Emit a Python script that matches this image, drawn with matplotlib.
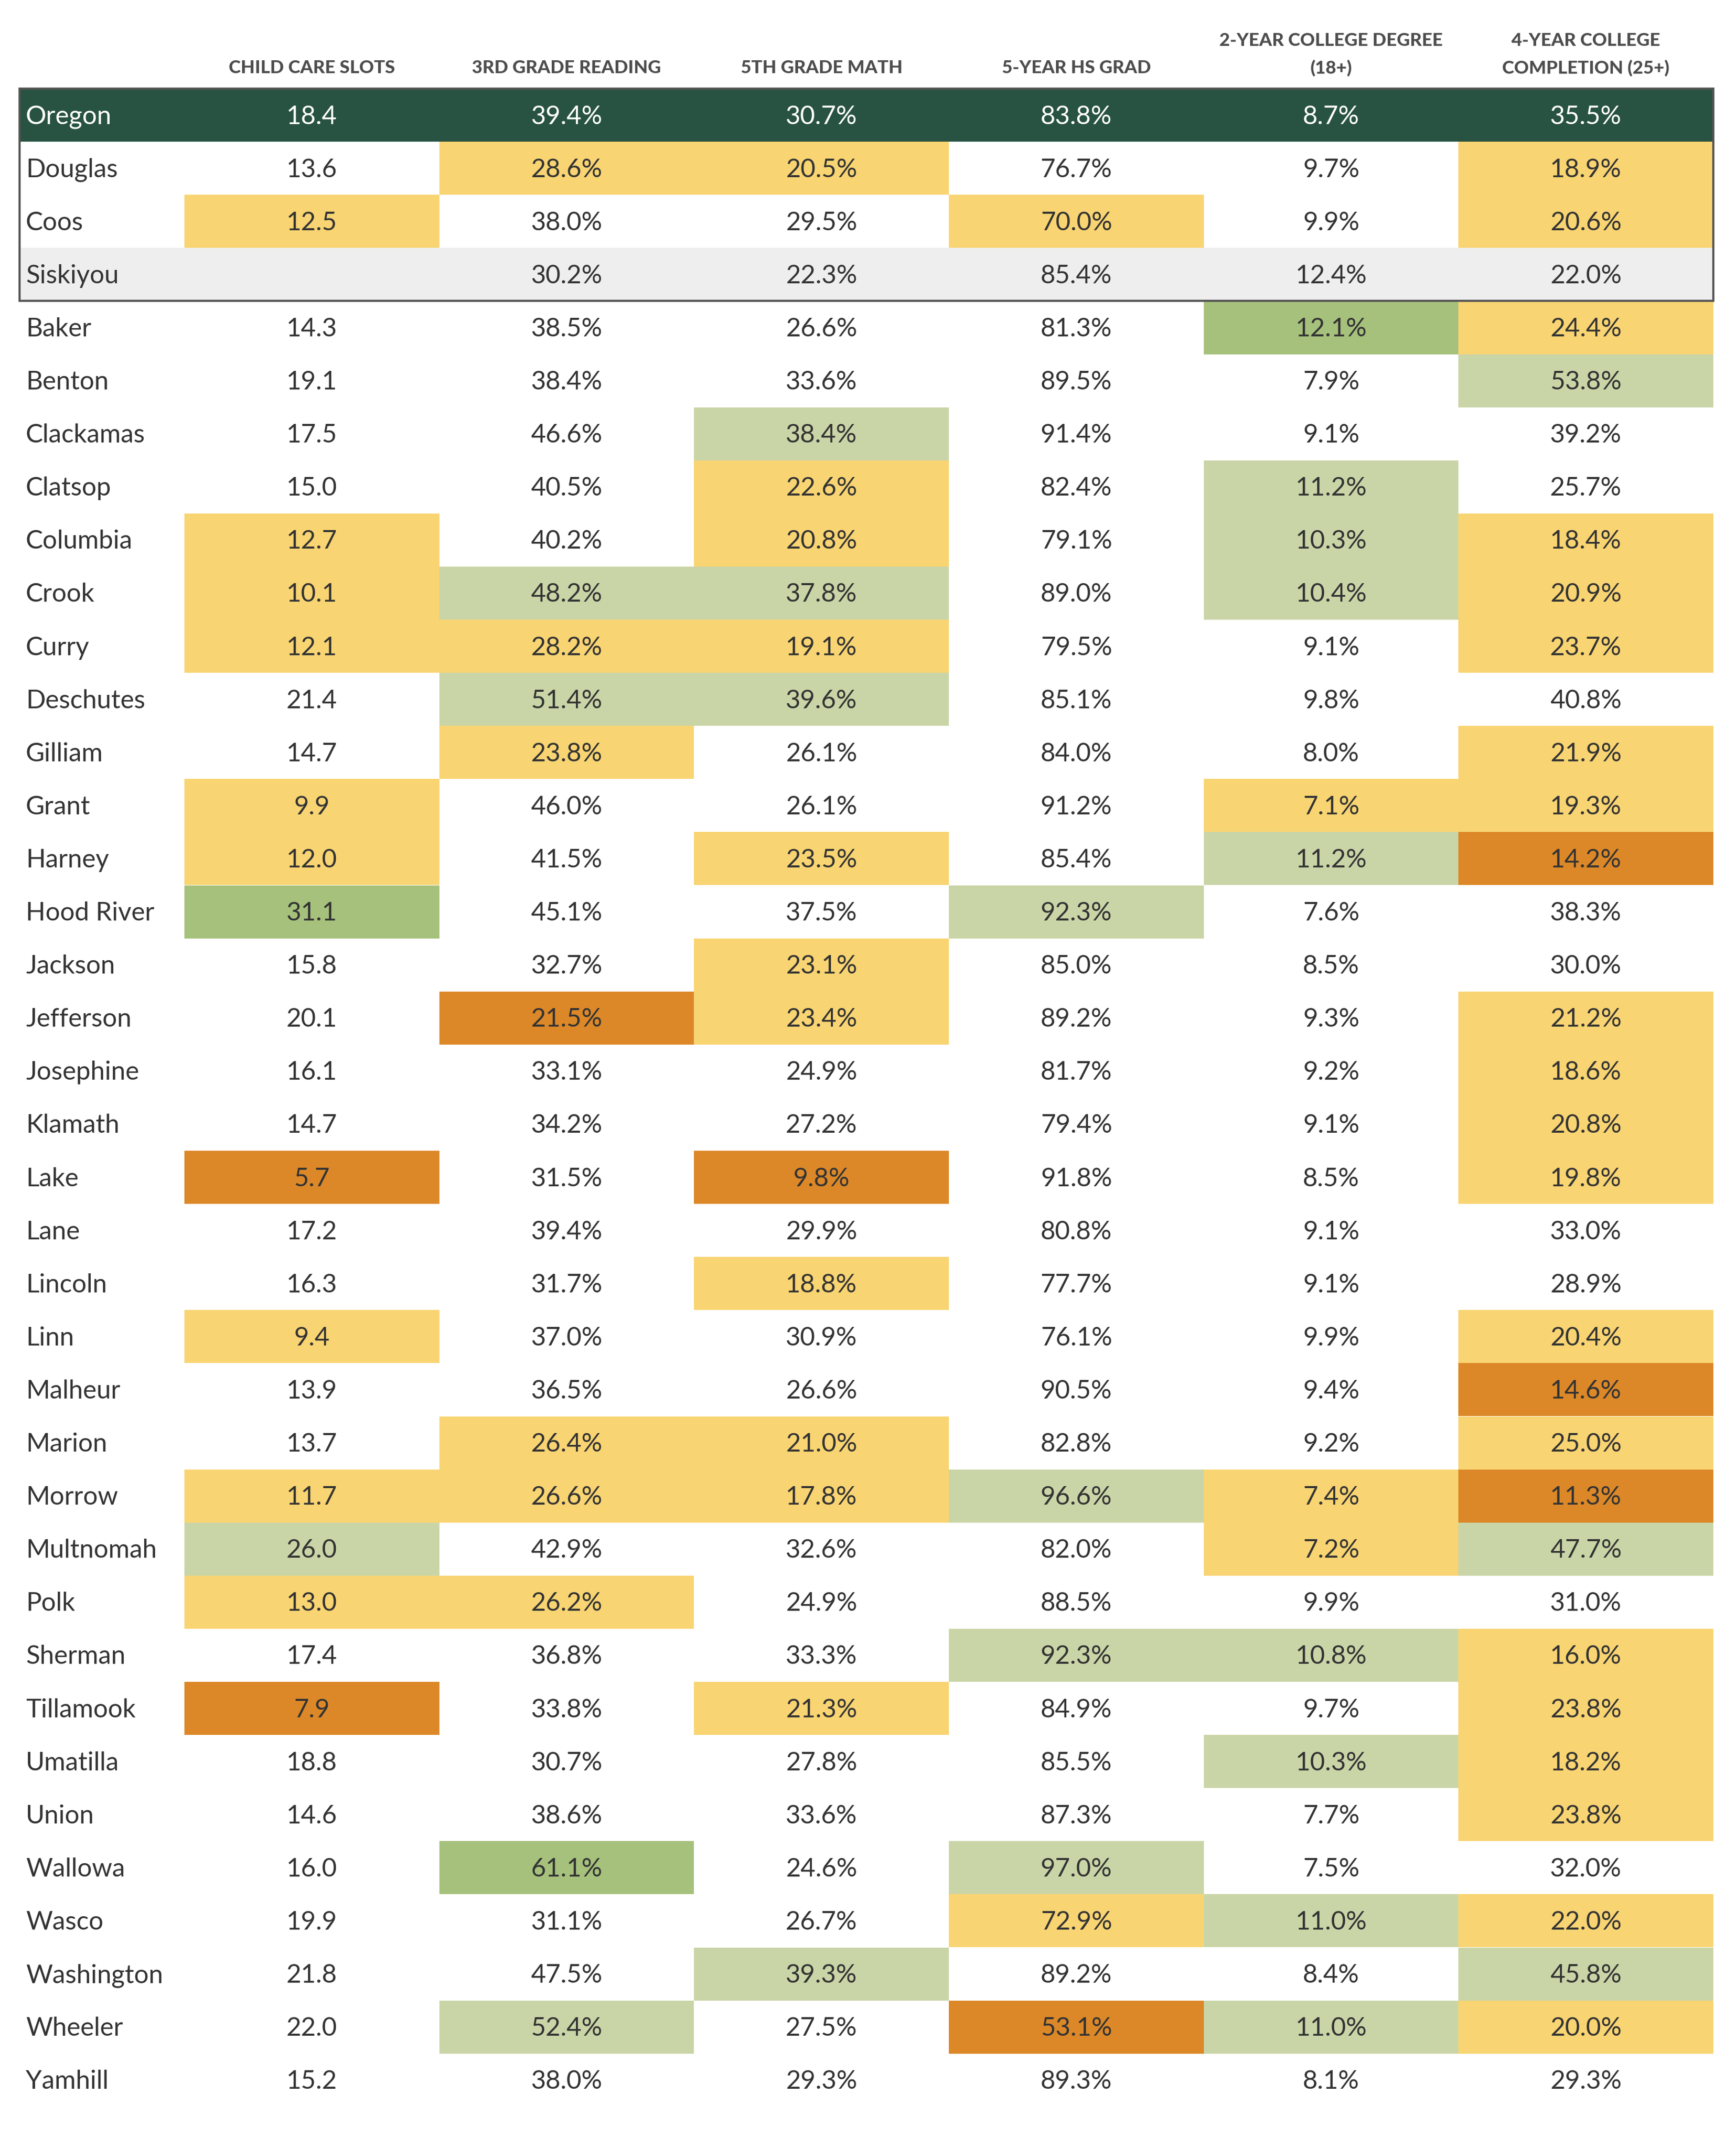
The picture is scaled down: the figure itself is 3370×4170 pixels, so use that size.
import matplotlib.pyplot as plt
from matplotlib.patches import Rectangle

plt.rcParams['font.family'] = ['Lato', 'DejaVu Sans']

# ---- data ----
headers = ['CHILD CARE SLOTS', '3RD GRADE READING', '5TH GRADE MATH',
           '5-YEAR HS GRAD', '2-YEAR COLLEGE DEGREE\n(18+)',
           '4-YEAR COLLEGE\nCOMPLETION (25+)']

counties = ['Oregon', 'Douglas', 'Coos', 'Siskiyou', 'Baker', 'Benton',
            'Clackamas', 'Clatsop', 'Columbia', 'Crook', 'Curry', 'Deschutes',
            'Gilliam', 'Grant', 'Harney', 'Hood River', 'Jackson', 'Jefferson',
            'Josephine', 'Klamath', 'Lake', 'Lane', 'Lincoln', 'Linn',
            'Malheur', 'Marion', 'Morrow', 'Multnomah', 'Polk', 'Sherman',
            'Tillamook', 'Umatilla', 'Union', 'Wallowa', 'Wasco', 'Washington',
            'Wheeler', 'Yamhill']

child_care = [18.4, 13.6, 12.5, None, 14.3, 19.1, 17.5, 15.0, 12.7, 10.1, 12.1,
              21.4, 14.7, 9.9, 12.0, 31.1, 15.8, 20.1, 16.1, 14.7, 5.7, 17.2,
              16.3, 9.4, 13.9, 13.7, 11.7, 26.0, 13.0, 17.4, 7.9, 18.8, 14.6,
              16.0, 19.9, 21.8, 22.0, 15.2]
reading = [39.4, 28.6, 38.0, 30.2, 38.5, 38.4, 46.6, 40.5, 40.2, 48.2, 28.2,
           51.4, 23.8, 46.0, 41.5, 45.1, 32.7, 21.5, 33.1, 34.2, 31.5, 39.4,
           31.7, 37.0, 36.5, 26.4, 26.6, 42.9, 26.2, 36.8, 33.8, 30.7, 38.6,
           61.1, 31.1, 47.5, 52.4, 38.0]
math = [30.7, 20.5, 29.5, 22.3, 26.6, 33.6, 38.4, 22.6, 20.8, 37.8, 19.1,
        39.6, 26.1, 26.1, 23.5, 37.5, 23.1, 23.4, 24.9, 27.2, 9.8, 29.9,
        18.8, 30.9, 26.6, 21.0, 17.8, 32.6, 24.9, 33.3, 21.3, 27.8, 33.6,
        24.6, 26.7, 39.3, 27.5, 29.3]
hs_grad = [83.8, 76.7, 70.0, 85.4, 81.3, 89.5, 91.4, 82.4, 79.1, 89.0, 79.5,
           85.1, 84.0, 91.2, 85.4, 92.3, 85.0, 89.2, 81.7, 79.4, 91.8, 80.8,
           77.7, 76.1, 90.5, 82.8, 96.6, 82.0, 88.5, 92.3, 84.9, 85.5, 87.3,
           97.0, 72.9, 89.2, 53.1, 89.3]
two_year = [8.7, 9.7, 9.9, 12.4, 12.1, 7.9, 9.1, 11.2, 10.3, 10.4, 9.1,
            9.8, 8.0, 7.1, 11.2, 7.6, 8.5, 9.3, 9.2, 9.1, 8.5, 9.1,
            9.1, 9.9, 9.4, 9.2, 7.4, 7.2, 9.9, 10.8, 9.7, 10.3, 7.7,
            7.5, 11.0, 8.4, 11.0, 8.1]
four_year = [35.5, 18.9, 20.6, 22.0, 24.4, 53.8, 39.2, 25.7, 18.4, 20.9, 23.7,
             40.8, 21.9, 19.3, 14.2, 38.3, 30.0, 21.2, 18.6, 20.8, 19.8, 33.0,
             28.9, 20.4, 14.6, 25.0, 11.3, 47.7, 31.0, 16.0, 23.8, 18.2, 23.8,
             32.0, 22.0, 45.8, 20.0, 29.3]

# cell shading per row: n none, y low, o lowest, g high, G highest
shading = ['nnnnnn', 'nyynny', 'ynnyny', 'nnnnnn', 'nnnnGy', 'nnnnng',
           'nngnnn', 'nnyngn', 'ynyngy', 'yggngy', 'yyynny', 'nggnnn',
           'nynnny', 'ynnnyy', 'ynyngo', 'Gnngnn', 'nnynnn', 'noynny',
           'nnnnny', 'nnnnny', 'ononny', 'nnnnnn', 'nnynnn', 'ynnnny',
           'nnnnno', 'nyynny', 'yyygyo', 'gnnnyg', 'yynnnn', 'nnnggy',
           'onynny', 'nnnngy', 'nnnnny', 'nGngnn', 'nnnygy', 'nngnng',
           'ngnogy', 'nnnnnn']

columns = [child_care, reading, math, hs_grad, two_year, four_year]

palette = {'n': None, 'y': '#F9D472', 'o': '#DC8828', 'g': '#CAD5A7',
           'G': '#A6C17C'}

# ---- layout (pixels) ----
W, H = 3370, 4170
left, right = 38, 3326
col0 = 358
col_w = (right - col0) / 6
top = 172
row_h = 103.1

fig = plt.figure(figsize=(W / 100, H / 100), dpi=100)
ax = fig.add_axes([0, 0, 1, 1])
ax.set_xlim(0, W)
ax.set_ylim(H, 0)
ax.axis('off')

# headers
for j, h in enumerate(headers):
    xc = col0 + (j + 0.5) * col_w
    lines = h.split('\n')
    for k, line in enumerate(reversed(lines)):
        ax.text(xc, 142 - k * 53, line, ha='center', va='baseline',
                fontsize=25.5, fontweight='black', color='#4D4D4D')

for i, name in enumerate(counties):
    y0 = top + i * row_h
    yb = y0 + row_h / 2 + 17
    txt_color = '#333333'
    if name == 'Oregon':
        ax.add_patch(Rectangle((left, y0), right - left, row_h,
                               color='#285242', lw=0))
        txt_color = 'white'
    elif name == 'Siskiyou':
        ax.add_patch(Rectangle((left, y0), right - left, row_h,
                               color='#EEEEEE', lw=0))
    else:
        for j in range(6):
            c = palette.get(shading[i][j])
            if c:
                ax.add_patch(Rectangle((col0 + j * col_w, y0), col_w, row_h,
                                       color=c, lw=0))
    ax.text(50, yb, name, ha='left', va='baseline', fontsize=36,
            color=txt_color)
    for j, vals in enumerate(columns):
        v = vals[i]
        if v is None:
            continue
        s = f'{v:.1f}' if j == 0 else f'{v:.1f}%'
        ax.text(col0 + (j + 0.5) * col_w, yb, s, ha='center', va='baseline',
                fontsize=36, color=txt_color)

# box round the highlighted group
ax.add_patch(Rectangle((left, top), right - left, 4 * row_h, fill=False,
                       edgecolor='#555555', lw=3))

fig.savefig('out.png', dpi=100)
